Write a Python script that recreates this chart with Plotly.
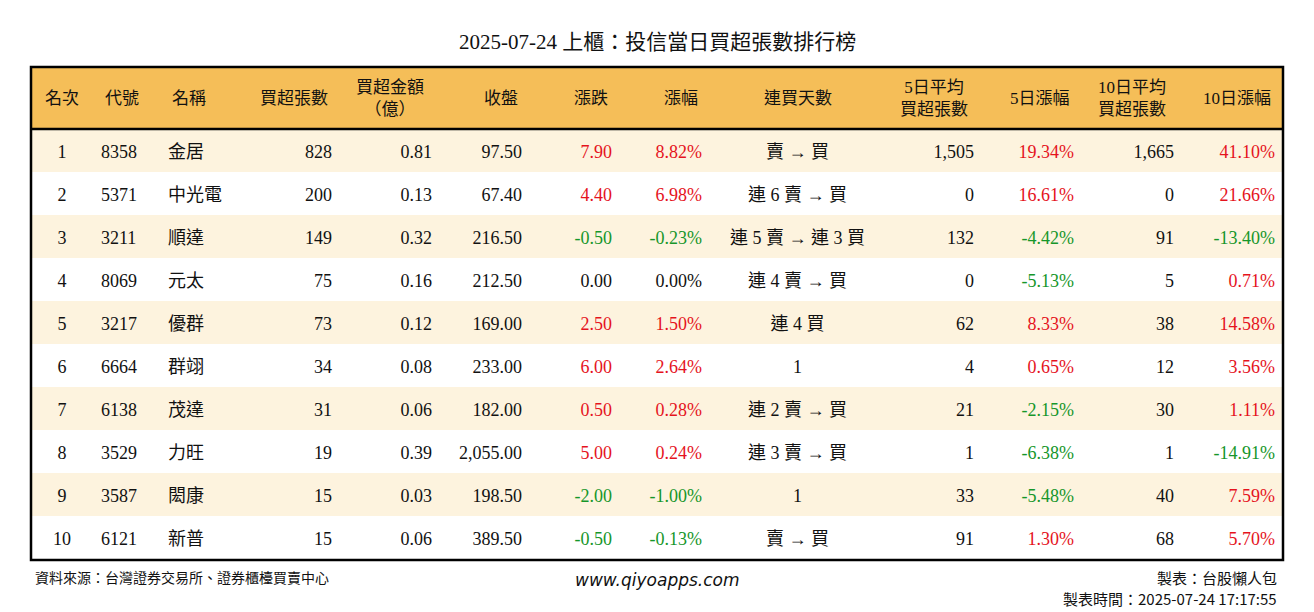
import plotly.graph_objects as go

W, H = 1314, 612
OFF = 8  # page body margin offset
headers = ["名次", "代號", "名稱", "買超張數", "買超金額<br>（億）", "收盤", "漲跌", "漲幅",
           "連買天數", "5日平均<br>買超張數", "5日漲幅", "10日平均<br>買超張數", "10日漲幅"]
rank = [1, 2, 3, 4, 5, 6, 7, 8, 9, 10]
code = ["8358", "5371", "3211", "8069", "3217", "6664", "6138", "3529", "3587", "6121"]
name = ["金居", "中光電", "順達", "元太", "優群", "群翊", "茂達", "力旺", "閎康", "新普"]
net_lots = ["828", "200", "149", "75", "73", "34", "31", "19", "15", "15"]
amount = ["0.81", "0.13", "0.32", "0.16", "0.12", "0.08", "0.06", "0.39", "0.03", "0.06"]
close = ["97.50", "67.40", "216.50", "212.50", "169.00", "233.00", "182.00", "2,055.00", "198.50", "389.50"]
change = [7.90, 4.40, -0.50, 0.00, 2.50, 6.00, 0.50, 5.00, -2.00, -0.50]
pct = [8.82, 6.98, -0.23, 0.00, 1.50, 2.64, 0.28, 0.24, -1.00, -0.13]
streak = ["賣 → 買", "連 6 賣 → 買", "連 5 賣 → 連 3 買", "連 4 賣 → 買", "連 4 買", "1",
          "連 2 賣 → 買", "連 3 賣 → 買", "1", "賣 → 買"]
avg5 = ["1,505", "0", "132", "0", "62", "4", "21", "1", "33", "91"]
pct5 = [19.34, 16.61, -4.42, -5.13, 8.33, 0.65, -2.15, -6.38, -5.48, 1.30]
avg10 = ["1,665", "0", "91", "5", "38", "12", "30", "1", "40", "68"]
pct10 = [41.10, 21.66, -13.40, 0.71, 14.58, 3.56, 1.11, -14.91, 7.59, 5.70]

RED, GREEN, BLACK = "#E5131D", "#16962A", "#111111"

def col_color(vals):
    return [RED if v > 0 else GREEN if v < 0 else BLACK for v in vals]

values = [rank, code, name, net_lots, amount, close,
          [f"{v:.2f}" for v in change], [f"{v:.2f}%" for v in pct], streak,
          avg5, [f"{v:.2f}%" for v in pct5], avg10, [f"{v:.2f}%" for v in pct10]]
colors = [BLACK] * 6 + [col_color(change), col_color(pct), BLACK, BLACK,
                        col_color(pct5), BLACK, col_color(pct10)]
aligns = ["center", "left", "left", "right", "right", "right", "right", "right",
          "center", "right", "right", "right", "right"]
h_aligns = ["center", "left", "left", "right", "center", "right", "right", "right",
            "center", "center", "right", "center", "right"]
widths = [62, 67, 80, 100, 100, 90, 90, 90, 175, 97, 100, 100, 101]
FONT = "Liberation Serif, Noto Sans CJK TC"
HDR = "#F5BE58"
BAND = "#FDF3DE"
CLEAR = "rgba(0,0,0,0)"

def px(x):
    return (x - OFF) / W

def py(y):
    return 1 - (y - OFF) / H

left, right, top, hdr_bot, bot = 31, 1283, 67, 129, 560
row_h = 43
shift = 7

fig = go.Figure(go.Table(
    domain=dict(x=[px(left), px(right)], y=[py(bot + shift), py(hdr_bot + shift)]),
    columnwidth=widths,
    header=dict(values=[""] * 13, height=0, fill_color=CLEAR, line_color=CLEAR),
    cells=dict(values=values, fill_color=CLEAR, line_color=CLEAR,
               align=aligns, height=row_h, font=dict(family=FONT, size=18, color=colors)),
))

# zebra bands
for i in range(0, len(rank), 2):
    fig.add_shape(type="rect", xref="paper", yref="paper", x0=px(left), x1=px(right),
                  y0=py(hdr_bot + (i + 1) * row_h), y1=py(hdr_bot + i * row_h),
                  fillcolor=BAND, line_width=0, layer="below")

fig.add_shape(type="rect", xref="paper", yref="paper", x0=px(left), x1=px(right),
              y0=py(hdr_bot), y1=py(top), fillcolor=HDR, line_width=0, layer="below")
fig.add_shape(type="rect", xref="paper", yref="paper", x0=px(left), x1=px(right),
              y0=py(bot), y1=py(top), line=dict(color="black", width=2.5))
fig.add_shape(type="line", xref="paper", yref="paper", x0=px(left), x1=px(right),
              y0=py(hdr_bot), y1=py(hdr_bot), line=dict(color="black", width=2.5))

edge = left
for h, w, a in zip(headers, widths, h_aligns):
    if a == "center":
        xx, anc = edge + w / 2, "center"
    elif a == "left":
        xx, anc = edge + 10, "left"
    else:
        xx, anc = edge + w - 10, "right"
    fig.add_annotation(text=h, x=px(xx), y=py((top + hdr_bot) / 2), xref="paper", yref="paper",
                       xanchor=anc, yanchor="middle", showarrow=False,
                       font=dict(family=FONT, size=17, color=BLACK))
    edge += w

fig.add_annotation(text="2025-07-24 上櫃：投信當日買超張數排行榜", x=px(657), y=py(42),
                   xref="paper", yref="paper", yanchor="middle", showarrow=False,
                   font=dict(family=FONT, size=21, color=BLACK))
fig.add_annotation(text="資料來源：台灣證券交易所、證券櫃檯買賣中心", x=px(33), y=py(577),
                   xref="paper", yref="paper", xanchor="left", yanchor="middle", showarrow=False,
                   font=dict(family="Noto Sans CJK TC", size=14, color=BLACK))
fig.add_annotation(text="<i>www.qiyoapps.com</i>", x=px(657), y=py(580),
                   xref="paper", yref="paper", yanchor="middle", showarrow=False,
                   font=dict(family="DejaVu Sans", size=17, color=BLACK))
fig.add_annotation(text="製表：台股懶人包", x=px(1279), y=py(577),
                   xref="paper", yref="paper", xanchor="right", yanchor="middle", showarrow=False,
                   font=dict(family="Noto Sans CJK TC", size=15, color=BLACK))
fig.add_annotation(text="製表時間：2025-07-24 17:17:55", x=px(1279), y=py(598),
                   xref="paper", yref="paper", xanchor="right", yanchor="middle", showarrow=False,
                   font=dict(family="Noto Sans CJK TC", size=15, color=BLACK))

fig.update_layout(width=W, height=H, margin=dict(l=0, r=0, t=0, b=0),
                  paper_bgcolor="white", plot_bgcolor="white")
fig.write_html("out.html")
